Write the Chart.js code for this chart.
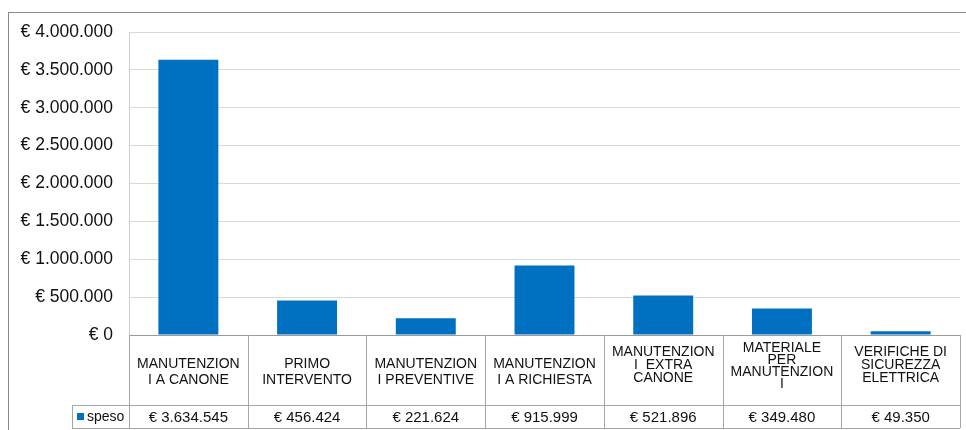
<!DOCTYPE html>
<html><head><meta charset="utf-8">
<script src="https://cdn.jsdelivr.net/npm/chart.js@4"></script>
<style>html,body{margin:0;padding:0;background:#fff;overflow:hidden}#wrap{width:966px;height:430px;position:relative}</style>
</head><body><div id="wrap"><canvas id="c" width="966" height="430"></canvas></div>
<script>
const categories = [
  ['MANUTENZION', 'I A CANONE'],
  ['PRIMO', 'INTERVENTO'],
  ['MANUTENZION', 'I PREVENTIVE'],
  ['MANUTENZION', 'I A RICHIESTA'],
  ['MANUTENZION', 'I  EXTRA', 'CANONE'],
  ['MATERIALE', 'PER', 'MANUTENZION', 'I'],
  ['VERIFICHE DI', 'SICUREZZA', 'ELETTRICA']
];
const seriesName = 'speso';
const spesoValues = [3634545, 456424, 221624, 915999, 521896, 349480, 49350];
const yTickValues = [0, 500000, 1000000, 1500000, 2000000, 2500000, 3000000, 3500000, 4000000];

const FONT = '"Liberation Sans", Arial, sans-serif';
const BAR = '#0070c0';
const fmtEuro = v => '€ ' + String(v).replace(/\B(?=(\d{3})+(?!\d))/g, '.');

const tablePlugin = {
  id: 'dataTable',
  beforeDraw(chart) {
    const ctx = chart.ctx;
    ctx.save();
    ctx.strokeStyle = '#8a8a8a';
    ctx.lineWidth = 1;
    ctx.strokeRect(8.5, 12.5, 1000, 1000);
    ctx.restore();
  },
  afterDraw(chart) {
    const ctx = chart.ctx, xs = chart.scales.x, a = chart.chartArea;
    const n = categories.length;
    const top = a.bottom, mid = a.bottom + 70, bot = a.bottom + 93;
    const legendLeft = 72;
    const step = xs.getPixelForValue(1) - xs.getPixelForValue(0);
    ctx.save();
    ctx.strokeStyle = '#a6a6a6';
    ctx.lineWidth = 1;
    ctx.beginPath();
    for (let i = 0; i <= n; i++) {
      const px = Math.round(xs.getPixelForValue(i) - step / 2) + 0.5;
      ctx.moveTo(px, top); ctx.lineTo(px, bot);
    }
    ctx.moveTo(legendLeft + 0.5, mid); ctx.lineTo(legendLeft + 0.5, bot);
    ctx.moveTo(legendLeft, Math.round(mid) + 0.5); ctx.lineTo(a.right, Math.round(mid) + 0.5);
    ctx.moveTo(legendLeft, Math.round(bot) + 0.5); ctx.lineTo(a.right, Math.round(bot) + 0.5);
    ctx.stroke();
    // legend cell
    const cy = (mid + bot) / 2;
    ctx.fillStyle = BAR;
    ctx.fillRect(legendLeft + 5, cy - 3.5, 7, 7);
    ctx.fillStyle = '#111';
    ctx.font = '14px ' + FONT;
    ctx.textBaseline = 'middle';
    ctx.textAlign = 'left';
    ctx.fillText(seriesName, legendLeft + 15, cy + 1);
    // values
    ctx.font = '15px ' + FONT;
    ctx.textAlign = 'center';
    spesoValues.forEach((v, i) => {
      ctx.fillText(fmtEuro(v), xs.getPixelForValue(i), cy + 1);
    });
    ctx.restore();
  }
};

new Chart(document.getElementById('c'), {
  type: 'bar',
  data: {
    labels: categories,
    datasets: [{
      label: seriesName,
      data: spesoValues,
      backgroundColor: BAR,
      borderWidth: 0,
      categoryPercentage: 1,
      barPercentage: 0.505
    }]
  },
  options: {
    responsive: false,
    animation: false,
    layout: { padding: { top: 32, right: 6, bottom: 0, left: 0 } },
    plugins: { legend: { display: false }, tooltip: { enabled: false } },
    scales: {
      x: {
        offset: true,
        grid: { display: false, drawTicks: false },
        border: { display: true, color: '#9a9a9a' },
        ticks: {
          autoSkip: false,
          maxRotation: 0,
          minRotation: 0,
          crossAlign: 'center',
          padding: 13,
          color: '#111',
          callback: (v, i) => {
            const lbl = categories[i];
            return lbl.length === 2 ? [''].concat(lbl) : lbl;
          },
          font: (c) => {
            const lbl = categories[c.index] || [];
            const lh = lbl.length >= 4 ? 11.7 : lbl.length === 3 ? 13 : 16;
            return { family: FONT, size: 14, lineHeight: lh + 'px' };
          }
        },
        afterFit: s => { s.height = 95; }
      },
      y: {
        min: yTickValues[0],
        max: yTickValues[yTickValues.length - 1],
        afterBuildTicks: s => { s.ticks = yTickValues.map(v => ({ value: v })); },
        grid: { color: '#d9d9d9', drawTicks: false },
        border: { display: true, color: '#d0d0d0' },
        ticks: {
          padding: 16,
          color: '#111',
          font: { family: FONT, size: 17.5 },
          callback: v => fmtEuro(v)
        },
        afterFit: s => { s.width = 129; }
      }
    }
  },
  plugins: [tablePlugin]
});
</script>
</body></html>
